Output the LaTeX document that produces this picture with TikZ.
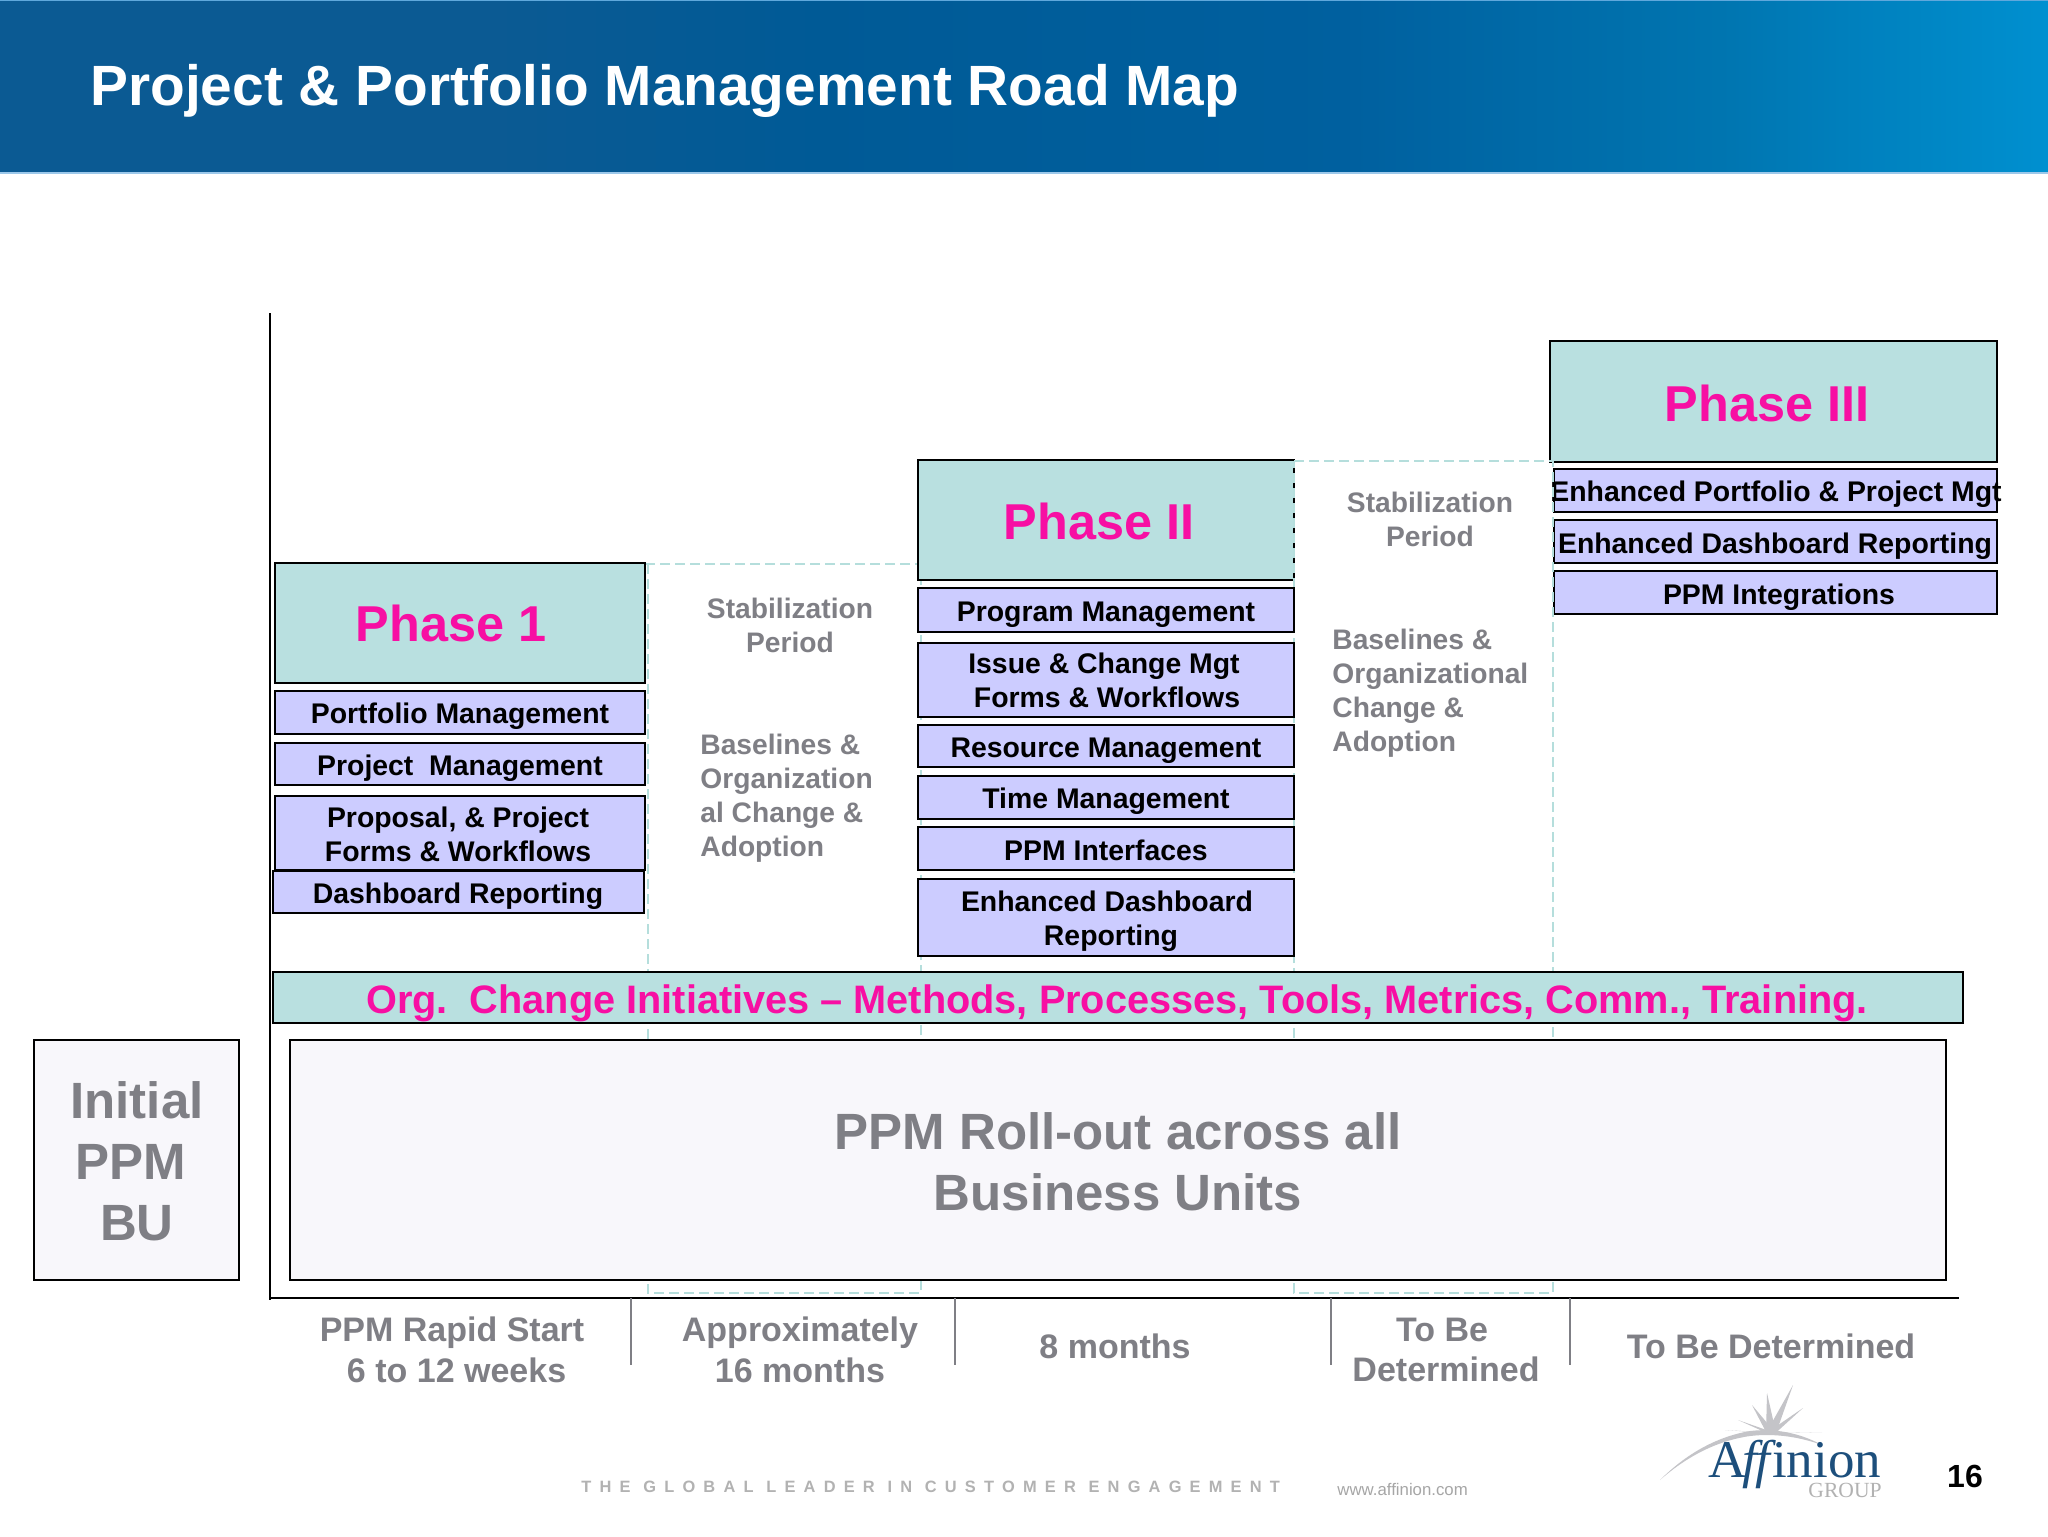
\documentclass[tikz,border=0pt]{standalone}
\usepackage{fontspec}
\setmainfont{Liberation Sans}
\newfontfamily\logofont{Liberation Serif}
\newfontfamily\footfont[LetterSpace=50]{Liberation Sans}
\usetikzlibrary{calc}
\definecolor{tealbox}{HTML}{B9E0E0}
\definecolor{lav}{HTML}{CCCCFF}
\definecolor{pinkt}{HTML}{F70FA3}
\definecolor{grayt}{HTML}{7F7F85}
\definecolor{dashc}{HTML}{B5DEDC}
\definecolor{pale}{HTML}{F8F7FB}
\definecolor{logob}{HTML}{1D4F7C}
\definecolor{logog}{HTML}{C4C4C8}
\definecolor{hA}{HTML}{0B5A93}
\definecolor{hB}{HTML}{005A96}
\definecolor{hC}{HTML}{00609F}
\definecolor{hD}{HTML}{0075B0}
\definecolor{hE}{HTML}{0090D0}
\definecolor{hlineA}{HTML}{5FA8DC}
\definecolor{hlineB}{HTML}{9CC8EA}
\pgfdeclarehorizontalshading{hdr}{100bp}{
  color(0bp)=(hA);
  color(37bp)=(hA);
  color(45bp)=(hB);
  color(58bp)=(hC);
  color(67bp)=(hD);
  color(75bp)=(hE);
  color(100bp)=(hE)}
\tikzset{
  x=0.5pt,y=-0.5pt,
  boxbase/.style={draw=black,line width=1.4pt,inner sep=0pt,outer sep=0pt,anchor=center},
  phasebox/.style={boxbase,fill=tealbox},
  itembox/.style={boxbase,fill=lav},
  palebox/.style={boxbase,fill=pale},
  itemtext/.style={font=\bfseries\fontsize{14.2}{17}\selectfont,text=black,align=center,inner sep=0pt},
  phasetext/.style={font=\bfseries\fontsize{25.2}{29}\selectfont,text=pinkt,inner sep=0pt},
  orgtext/.style={font=\bfseries\fontsize{19.85}{24}\selectfont,text=pinkt,inner sep=0pt},
  bigtext/.style={font=\bfseries\fontsize{25.5}{30.5}\selectfont,text=grayt,align=center,inner sep=0pt},
  noteC/.style={font=\bfseries\fontsize{14.1}{17}\selectfont,text=grayt,align=center,inner sep=0pt},
  noteL/.style={font=\bfseries\fontsize{14.1}{17}\selectfont,text=grayt,align=left,inner sep=0pt,anchor=west},
  timetext/.style={font=\bfseries\fontsize{17}{20.25}\selectfont,text=grayt,align=center,inner sep=0pt},
  tealdash/.style={draw=dashc,line width=0.8pt,dash pattern=on 5pt off 2.5pt},
  axisline/.style={draw=black,line width=1.2pt},
  tickline/.style={draw=grayt,line width=1pt},
}
% name, x1, y1, x2, y2, style, textstyle, tx, ty, text
\newcommand{\rbox}[9]{%
  \pgfmathsetmacro{\bw}{(#4-#2)/2}\pgfmathsetmacro{\bh}{(#5-#3)/2}%
  \node[#6,minimum width=\bw pt,minimum height=\bh pt] (#1) at ({(#2+#4)/2},{(#3+#5)/2}) {};%
  \rboxtext{#1}{#7}{#8}{#9}}
\newcommand{\rboxtext}[4]{\def\rtA{#1}\def\rtB{#2}\def\rtC{#3}\def\rtD{#4}\rboxtextB}
\newcommand{\rboxtextB}[1]{\node[\rtB] (\rtA-t) at (\rtC,\rtD) {#1};}
\begin{document}
\begin{tikzpicture}
\useasboundingbox (0,0) rectangle (2048,1536);
\fill[white] (0,0) rectangle (2048,1536);
% header
\shade[shading=hdr] (0,0) rectangle (2048,172);
\fill[hlineA] (0,0) rectangle (2048,1.5);
\fill[hlineB] (0,172) rectangle (2048,174);
\node[font=\bfseries\fontsize{28.4}{32}\selectfont,text=white,anchor=west,inner sep=0pt] (title) at (90,91) {Project \& Portfolio Management Road Map};
% teal dashed frame, first stabilisation
\draw[tealdash] (645,564) -- (648,564) -- (921,564);
\draw[tealdash] (648,564) -- (648,1293) -- (921,1293) -- (921,564);
% axes
\draw[axisline] (270,313) -- (270,1300);
\draw[axisline] (270,1298) -- (1959,1298);
\foreach \xx/\nm in {631/a,955/b,1331/c,1570/d}{\coordinate (tick\nm) at (\xx,1298); \draw[tickline] (tick\nm) -- ++(0,67);}
% Phase 1
\rbox{ph1}{275}{563}{645}{683}{phasebox}{phasetext}{451}{623}{Phase 1}
\rbox{i11}{275}{691}{645}{734}{itembox}{itemtext}{460}{716}{Portfolio Management}
\rbox{i12}{275}{743}{645}{785}{itembox}{itemtext}{460}{768}{Project\ \ Management}
\rbox{i13}{275}{796}{645}{870}{itembox}{itemtext}{458}{834}{Proposal, \& Project\\Forms \& Workflows}
\rbox{i14}{273}{871}{644}{913}{itembox}{itemtext}{458}{896}{Dashboard Reporting}
% Phase II and Phase III boxes, then the dashed frame over their edges
\rbox{ph2}{918}{460}{1294}{580}{phasebox}{phasetext}{1099}{521}{Phase II}
\rbox{ph3}{1550}{341}{1997}{462}{phasebox}{phasetext}{1767}{403}{Phase III}
\rbox{i31}{1554}{469}{1997}{512}{itembox}{itemtext}{1776}{494}{Enhanced Portfolio \& Project Mgt}
\rbox{i32}{1554}{520}{1997}{563}{itembox}{itemtext}{1775}{546}{Enhanced Dashboard Reporting}
\rbox{i33}{1554}{571}{1997}{614}{itembox}{itemtext}{1779}{597}{PPM Integrations}
\draw[tealdash] (1294,461) -- (1553,461) -- (1553,1293) -- (1294,1293) -- cycle;
\rbox{i21}{918}{588}{1294}{632}{itembox}{itemtext}{1106}{615}{Program Management}
\rbox{i22}{918}{643}{1294}{717}{itembox}{itemtext}{1104}{680}{Issue \& Change Mgt\\\rule{3pt}{0pt}Forms \& Workflows}
\rbox{i23}{918}{725}{1294}{767}{itembox}{itemtext}{1106}{751}{Resource Management}
\rbox{i24}{918}{776}{1294}{819}{itembox}{itemtext}{1106}{801}{Time Management}
\rbox{i25}{918}{827}{1294}{870}{itembox}{itemtext}{1106}{850}{PPM Interfaces}
\rbox{i26}{918}{879}{1294}{956}{itembox}{itemtext}{1107}{921}{Enhanced Dashboard\\\rule{4pt}{0pt}Reporting}
% notes
\node[noteC] (stab1) at (790,625) {Stabilization\\Period};
\node[noteL] (base1) at (700,798) {Baselines \&\\Organization\\al Change \&\\Adoption};
\node[noteC] (stab2) at (1430,519) {Stabilization\\Period};
\node[noteL] (base2) at (1332,693) {Baselines \&\\Organizational\\Change \&\\Adoption};
% bars
\rbox{org}{273}{972}{1963}{1023}{phasebox}{orgtext}{1117}{1003}{Org.\ \ Change Initiatives -- Methods, Processes, Tools, Metrics, Comm., Training.}
\rbox{roll}{290}{1040}{1946}{1280}{palebox}{bigtext}{1118}{1162}{PPM Roll-out across all\\Business Units}
\rbox{init}{34}{1040}{239}{1280}{palebox}{bigtext}{137}{1161}{Initial\\PPM\rule{6.6pt}{0pt}\\BU}
% timeline
\node[timetext] (t1) at (452,1350) {PPM Rapid Start\\\rule{4.6pt}{0pt}6 to 12 weeks};
\node[timetext] (t2) at (800,1350) {Approximately\\16 months};
\node[timetext] (t3) at (1115,1346) {8 months};
\node[timetext] (t4) at (1446,1350) {To Be\rule{4pt}{0pt}\\Determined};
\node[timetext] (t5) at (1771,1346) {To Be Determined};
% footer
\node[font=\bfseries\fontsize{8.2}{10}\footfont,text=black!30,inner sep=0pt,anchor=west] (foot) at (581,1487) {THE GLOBAL LEADER IN CUSTOMER ENGAGEMENT};
\node[font=\fontsize{8.4}{10}\selectfont,text=black!35,inner sep=0pt,anchor=west] (web) at (1337,1489) {www.affinion.com};
\node[font=\bfseries\fontsize{16}{19}\selectfont,text=black,inner sep=0pt] (pg) at (1965,1476) {16};
% logo
\fill[logog] (1660,1480) .. controls (1685,1455) and (1715,1437) .. (1750,1431) .. controls (1775,1428) and (1800,1433) .. (1822,1445) .. controls (1800,1437) and (1775,1433) .. (1750,1436) .. controls (1715,1441) and (1685,1458) .. (1660,1480) -- cycle;
\coordinate (star) at (1771,1433);
\foreach \tipx/\tipy/\wd in {1793/1385/1,1767/1393/1,1752/1405/.9,1803/1408/.9,1738/1420/.8,1822/1432/.8,1725/1430/.7}{
  \fill[logog] ($(star)+(-5*\wd,0)$) -- (\tipx,\tipy) -- ($(star)+(5*\wd,0)$) -- cycle;}
\node[font=\logofont\fontsize{26.5}{30}\selectfont,text=logob,inner sep=0pt,anchor=base west] (aff) at (1708,1477) {A\kern-2pt{\itshape f\kern-1pt f}\kern1pt{}inion};
\node[font=\logofont\fontsize{10.8}{13}\selectfont,text=black!30,inner sep=0pt,anchor=base east] (grp) at (1882,1497) {GROUP};
\end{tikzpicture}
\end{document}
